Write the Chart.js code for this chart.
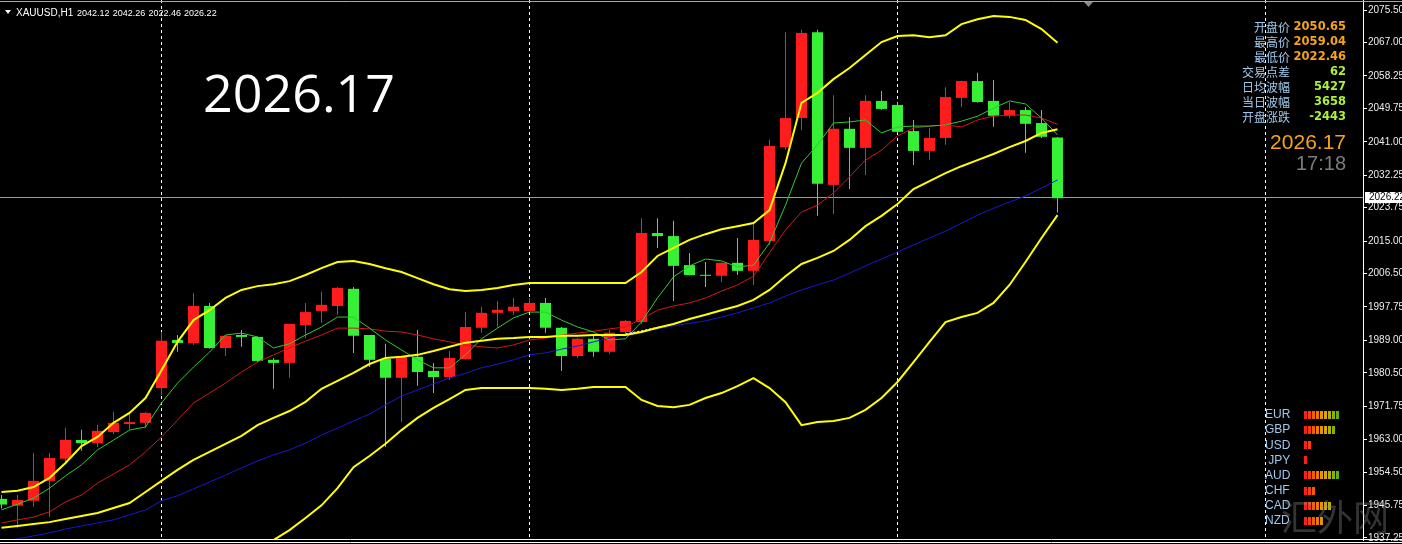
<!DOCTYPE html>
<html lang="zh">
<head>
<meta charset="UTF-8">
<title>XAUUSD,H1</title>
<script src="https://cdn.jsdelivr.net/npm/chart.js"></script>
<style>
    html, body {
        margin: 0;
        padding: 0;
        background: #000;
        overflow: hidden;
    }
    #wrap {
        width: 1402px;
        height: 544px;
    }
</style>
</head>
<body>
<div id="wrap"><canvas id="goldChart" width="1402" height="544"></canvas></div>
<script>
/* свечи XAUUSD H1, индекс = номер бара */
const opens = [1947.5,1945.7,1947.0,1952.2,1958.0,1962.9,1962.1,1965.0,1967.1,1967.4,
    1976.5,1989.1,1988.3,1998.0,1987.0,1990.4,1989.9,1983.9,1983.1,1993.0,
    1996.7,1998.0,2002.5,1990.4,1984.1,1979.2,1984.7,1981.0,1979.4,1984.1,
    1992.3,1996.2,1996.7,1996.7,1998.8,1992.3,1984.9,1989.4,1986.0,1991.2,
    1993.8,2017.1,2016.3,2008.7,2006.1,2005.9,2009.3,2007.2,2015.0,2039.6,
    2047.2,2069.7,2029.7,2044.4,2039.4,2051.7,2050.65,2043.8,2038.6,2042.0,
    2052.5,2056.9,2051.7,2047.8,2049.3,2045.9,2042.12];
const highs = [1948.5,1948.5,1959.5,1959.5,1966.1,1965.6,1966.9,1970.3,1970.3,1970.3,
    1991.2,1990.4,2001.4,1998.8,1990.4,1991.7,1990.0,1984.4,1993.4,1998.8,
    2001.7,2003.0,2003.0,1990.4,1988.1,1984.8,1991.7,1983.1,1986.2,1996.4,
    1997.8,1999.3,2000.1,2000.1,2000.1,1992.5,1989.6,1990.4,1991.7,1994.3,
    2021.0,2021.0,2020.3,2011.9,2009.5,2009.4,2015.8,2019.7,2041.5,2069.7,
    2070.3,2070.3,2053.2,2047.5,2053.2,2054.3,2051.5,2046.7,2044.6,2055.3,
    2057.0,2059.04,2057.2,2051.4,2050.1,2049.3,2042.26];
const lows = [1945.0,1939.9,1945.4,1942.8,1956.9,1960.1,1961.1,1964.5,1965.6,1966.1,
    1974.7,1986.0,1987.8,1986.8,1984.9,1987.3,1983.3,1976.3,1979.2,1989.6,
    1993.6,1995.7,1985.7,1982.0,1961.1,1967.6,1977.1,1975.2,1978.6,1984.0,
    1991.0,1992.3,1995.7,1996.5,1991.0,1981.0,1984.4,1984.7,1985.4,1990.8,
    1993.3,2013.2,1999.3,2006.0,2003.0,2004.3,2006.1,2003.5,2014.0,2038.9,
    2044.1,2021.6,2022.1,2028.6,2032.3,2049.4,2043.3,2034.9,2036.2,2040.2,
    2050.1,2051.2,2044.9,2047.2,2038.1,2042.0,2022.46];
const closes = [1946.0,1947.2,1952.2,1958.2,1962.9,1962.1,1965.3,1967.4,1967.6,1970.0,
    1988.9,1988.3,1998.0,1987.0,1990.2,1989.9,1983.6,1983.1,1993.3,1996.4,
    1998.3,2002.7,1990.2,1983.9,1979.2,1984.7,1980.7,1979.4,1984.4,1992.5,
    1996.2,1997.0,1997.8,1998.8,1992.3,1984.9,1989.4,1986.0,1991.0,1994.1,
    2017.1,2016.3,2008.5,2006.1,2005.9,2009.3,2007.2,2015.3,2039.9,2047.2,
    2069.5,2030.0,2044.4,2039.4,2051.7,2049.6,2043.6,2038.6,2042.0,2052.7,
    2056.9,2051.4,2047.8,2049.3,2045.7,2042.3,2026.22];

/* индикаторы, значения */
const bbUpper = [1949.3,1949.6,1950.6,1953.0,1956.9,1961.3,1963.7,1967.4,1970.0,1973.9,
    1981.2,1988.6,1994.3,1996.9,2000.1,2002.2,2003.2,2003.7,2004.5,2006.1,
    2007.9,2009.5,2009.8,2009.0,2007.9,2006.9,2005.3,2003.7,2002.4,2001.9,
    2002.2,2002.7,2003.5,2004.0,2004.0,2004.0,2004.0,2004.0,2004.0,2004.0,
    2006.9,2011.1,2013.2,2015.3,2016.8,2018.1,2018.9,2019.7,2023.1,2035.4,
    2051.2,2053.8,2057.4,2060.3,2063.7,2067.1,2068.7,2068.9,2068.4,2068.9,
    2071.8,2073.1,2073.9,2073.7,2072.9,2070.5,2066.9];
const bbMiddle = [1939.9,1940.4,1940.9,1941.4,1942.2,1943.0,1943.8,1945.1,1946.4,1949.3,
    1952.2,1955.1,1957.7,1959.8,1961.9,1964.0,1966.8,1968.7,1970.5,1972.9,
    1976.3,1978.4,1980.5,1982.8,1984.4,1984.7,1985.2,1986.2,1987.3,1988.4,
    1988.9,1989.4,1989.6,1989.9,1989.9,1990.2,1990.2,1990.4,1990.4,1990.4,
    1991.2,1992.3,1993.3,1994.6,1995.7,1996.9,1998.0,1999.6,2002.2,2005.8,
    2009.0,2010.6,2012.4,2015.3,2018.9,2021.6,2024.7,2028.6,2030.7,2032.8,
    2034.6,2036.2,2037.8,2039.6,2041.2,2043.3,2044.3];
const bbLower = [null,null,null,null,null,null,null,null,null,null,
    null,null,null,null,null,1930.0,1933.5,1936.7,1939.3,1942.5,
    1945.8,1950.3,1955.8,1958.7,1961.9,1965.5,1968.7,1971.3,1973.6,1976.0,
    1976.5,1976.5,1976.5,1976.5,1976.3,1976.0,1976.3,1976.8,1976.8,1976.8,
    1973.4,1971.8,1971.5,1972.1,1973.9,1975.2,1977.0,1979.1,1976.5,1972.8,
    1966.8,1967.6,1967.9,1968.7,1970.8,1973.9,1978.1,1983.3,1988.6,1993.8,
    1995.1,1996.2,1998.8,2003.5,2009.5,2015.8,2021.8];
const maFast = [1944.6,1946.1,1947.7,1950.3,1953.5,1956.4,1960.3,1962.9,1965.5,1966.3,
    1972.6,1977.8,1982.0,1985.9,1990.4,1990.9,1989.9,1987.0,1988.1,1990.4,
    1992.5,1995.1,1995.1,1992.2,1989.1,1986.5,1983.9,1981.8,1981.8,1985.2,
    1989.4,1992.2,1994.9,1996.4,1996.4,1994.3,1992.5,1991.2,1989.1,1989.4,
    1993.8,2000.1,2005.6,2008.5,2010.3,2009.8,2008.2,2008.7,2014.5,2024.4,
    2035.4,2040.2,2045.9,2046.2,2046.7,2043.3,2044.9,2045.1,2045.1,2045.4,
    2046.4,2047.7,2049.8,2051.7,2050.9,2047.2,2042.8];
const maMid = [1941.2,1942.0,1942.7,1944.1,1946.7,1948.5,1951.6,1954.0,1956.4,1959.8,
    1963.7,1968.1,1972.6,1975.2,1977.8,1980.7,1983.3,1985.2,1987.0,1988.8,
    1990.4,1992.2,1992.2,1992.0,1991.4,1991.2,1990.4,1989.4,1988.6,1987.8,
    1987.3,1987.0,1987.8,1989.1,1989.6,1990.4,1990.9,1991.4,1992.0,1992.5,
    1994.6,1996.9,1998.0,1998.8,2000.1,2001.9,2003.5,2005.8,2011.9,2017.9,
    2022.6,2024.4,2027.6,2031.8,2036.2,2038.8,2042.5,2044.6,2045.1,2045.4,
    2044.9,2046.7,2047.7,2048.0,2048.0,2047.2,2045.6];
const maSlow = [1936.5,1937.0,1937.8,1938.6,1939.6,1940.4,1941.2,1942.0,1943.3,1944.6,
    1947.0,1948.3,1950.1,1951.9,1953.7,1955.6,1957.4,1959.0,1960.3,1962.1,
    1964.2,1966.0,1967.9,1969.7,1972.1,1974.4,1976.0,1977.6,1979.1,1980.4,
    1981.8,1982.8,1983.9,1985.2,1985.7,1986.7,1987.5,1988.6,1989.6,1990.7,
    1991.4,1992.0,1992.8,1993.5,1994.1,1995.1,1996.2,1997.5,1998.8,2000.6,
    2002.2,2003.5,2004.8,2006.6,2008.5,2010.3,2012.1,2014.0,2015.8,2017.6,
    2019.7,2021.8,2023.6,2025.2,2026.8,2028.9,2031.0];
const dashTrend = [null,null,null,null,null,null,null,null,null,null,
    null,null,null,null,null,null,null,null,null,null,
    null,null,null,null,null,null,null,null,null,null,
    null,null,null,null,null,null,null,null,null,1990.7,
    1991.5,1992.4,1993.3];

/* ось цен и разделители дней */
const priceTicks = [2075.50,2067.00,2058.25,2049.75,2041.00,2032.25,2023.75,2015.00,
    2006.50,1997.75,1989.00,1980.50,1971.75,1963.00,1954.50,1945.75,1937.25];
const daySeparators = [10, 33, 56, 79];
const lastBid = 2026.22;

/* тексты панели */
const symbolLabel = 'XAUUSD,H1';
const headerQuote = [2042.12, 2042.26, 2022.46, 2026.22];
const bigPrice = '2026.17';
const infoLabels = ['开盘价', '最高价', '最低价', '交易点差', '日均波幅', '当日波幅', '开盘涨跌'];
const infoValues = ['2050.65', '2059.04', '2022.46', '62', '5427', '3658', '-2443'];
const clockText = '17:18';
const currencies = ['EUR', 'GBP', 'USD', ' JPY', 'AUD', 'CHF', 'CAD', 'NZD'];
const currencyStrength = [9, 8, 2, 1, 9, 3, 7, 5];
const watermark = '汇外网';

const UP = '#ff1c1c';
const DOWN = '#36f036';
const strengthColors = ['#ff2010','#ff3a08','#f85a00','#f07800','#e89400','#d8a800','#b4b000','#8cb000','#60b010'];

function pts(arr) {
    return arr.map((v, i) => v == null ? null : {x: i, y: v}).filter(Boolean);
}

const candleColors = closes.map((c, i) => c >= opens[i] ? UP : DOWN);

const lineBase = {type: 'line', pointRadius: 0, tension: 0, fill: false, borderWidth: 1};

const mt4Overlay = {
    id: 'mt4Overlay',
    beforeDatasetsDraw(chart) {
        const {ctx, chartArea: a, scales: {x, y}} = chart;
        ctx.save();
        ctx.lineWidth = 1;
        ctx.strokeStyle = '#ffffff';
        ctx.setLineDash([3, 3]);
        daySeparators.forEach(i => {
            const px = Math.floor(x.getPixelForValue(i)) + 0.5;
            ctx.beginPath();
            ctx.moveTo(px, a.top);
            ctx.lineTo(px, a.bottom);
            ctx.stroke();
        });
        ctx.setLineDash([]);
        ctx.strokeStyle = '#9c9c9c';
        const by = Math.floor(y.getPixelForValue(lastBid)) - 0.5;
        ctx.beginPath();
        ctx.moveTo(a.left, by);
        ctx.lineTo(a.right, by);
        ctx.stroke();
        ctx.restore();
    },
    afterDraw(chart) {
        const {ctx, chartArea: a, scales: {y}} = chart;
        const W = chart.width;
        ctx.save();

        /* рамка */
        ctx.lineWidth = 1;
        ctx.strokeStyle = '#a8a8a8';
        ctx.beginPath(); ctx.moveTo(0, 1.5); ctx.lineTo(W, 1.5); ctx.stroke();
        ctx.strokeStyle = '#ffffff';
        ctx.beginPath(); ctx.moveTo(0, 539.5); ctx.lineTo(W, 539.5); ctx.stroke();
        ctx.beginPath(); ctx.moveTo(0, 542.5); ctx.lineTo(W, 542.5); ctx.stroke();

        /* заголовок */
        ctx.fillStyle = '#ffffff';
        ctx.beginPath(); ctx.moveTo(5, 10); ctx.lineTo(11, 10); ctx.lineTo(8, 14); ctx.closePath(); ctx.fill();
        ctx.textBaseline = 'alphabetic';
        ctx.textAlign = 'left';
        ctx.font = '10px "Liberation Sans"';
        ctx.fillText(symbolLabel, 16, 16);
        ctx.font = '9px "Liberation Sans"';
        headerQuote.forEach((v, k) => ctx.fillText(v.toFixed(2), 77 + k * 35.7, 16));

        /* крупная цена */
        ctx.font = '52px "Open Sans"';
        ctx.fillText(bigPrice, 203, 112);

        /* маркер сдвига */
        ctx.fillStyle = '#8a8a8a';
        ctx.beginPath(); ctx.moveTo(1084, 2); ctx.lineTo(1093, 2); ctx.lineTo(1088.5, 7); ctx.closePath(); ctx.fill();

        /* инфо-панель */
        ctx.textBaseline = 'middle';
        ctx.textAlign = 'right';
        infoLabels.forEach((t, k) => {
            const yy = 27 + k * 15;
            ctx.font = '12px "Noto Sans CJK SC"';
            ctx.fillStyle = '#9fc8ec';
            ctx.fillText(t, 1290, yy);
            ctx.font = 'bold 11.5px "DejaVu Sans"';
            ctx.fillStyle = k < 3 ? '#f5a31a' : '#adf03a';
            ctx.fillText(infoValues[k], 1346, yy);
        });
        ctx.font = '21px "Liberation Sans"';
        ctx.fillStyle = '#f5a31a';
        ctx.fillText(bigPrice, 1346, 143);
        ctx.font = '20px "Liberation Sans"';
        ctx.fillStyle = '#7c7c7c';
        ctx.fillText(clockText, 1346, 164);

        /* сила валют */
        ctx.textAlign = 'left';
        currencies.forEach((c, k) => {
            const yc = 415 + k * 15.1;
            ctx.font = '12px "Liberation Sans"';
            ctx.fillStyle = '#9fc8ec';
            ctx.fillText(c, 1265, yc);
            for (let j = 0; j < currencyStrength[k]; j++) {
                ctx.fillStyle = strengthColors[j];
                ctx.fillRect(1304 + j * 4, Math.round(yc) - 4, 3, 8);
            }
        });

        /* водяной знак */
        ctx.textBaseline = 'alphabetic';
        ctx.font = '36px "Noto Sans CJK SC"';
        ctx.fillStyle = 'rgba(150,150,150,0.35)';
        ctx.fillText(watermark, 1281, 531);

        /* метка последней цены */
        const by = Math.floor(y.getPixelForValue(lastBid)) - 0.5;
        ctx.fillStyle = '#ffffff';
        ctx.fillRect(a.right + 2, Math.round(by) - 6, W - a.right - 2, 11);
        ctx.fillStyle = '#000000';
        ctx.textBaseline = 'middle';
        ctx.font = '10px "Liberation Sans"';
        ctx.fillText(lastBid.toFixed(2), a.right + 6, by);

        ctx.restore();
    }
};

const ctx = document.getElementById('goldChart').getContext('2d');
new Chart(ctx, {
    type: 'bar',
    data: {
        datasets: [
            Object.assign({}, lineBase, {data: pts(bbUpper), borderColor: '#ffff00', borderWidth: 2, order: 0}),
            Object.assign({}, lineBase, {data: pts(bbMiddle), borderColor: '#ffff00', borderWidth: 2, order: 0}),
            Object.assign({}, lineBase, {data: pts(bbLower), borderColor: '#ffff00', borderWidth: 2, order: 0}),
            Object.assign({}, lineBase, {data: pts(dashTrend), borderColor: '#ffffff', borderDash: [2, 2], order: 0}),
            Object.assign({}, lineBase, {data: pts(maFast), borderColor: '#33c833', order: 1}),
            Object.assign({}, lineBase, {data: pts(maMid), borderColor: '#d01818', order: 1}),
            Object.assign({}, lineBase, {data: pts(maSlow), borderColor: '#1818d0', order: 1}),
            {
                /* тела свечей */
                data: opens.map((o, i) => ({x: i, y: [o, closes[i]]})),
                backgroundColor: candleColors,
                barThickness: 11,
                minBarLength: 1,
                grouped: false,
                borderWidth: 0,
                inflateAmount: 0,
                order: 3
            },
            {
                /* тени */
                data: lows.map((l, i) => ({x: i, y: [l, highs[i]]})),
                backgroundColor: candleColors,
                barThickness: 1,
                grouped: false,
                borderWidth: 0,
                inflateAmount: 0,
                order: 4
            }
        ]
    },
    options: {
        responsive: false,
        animation: false,
        events: [],
        layout: {padding: {top: 0, left: 0, right: 0, bottom: 4}},
        plugins: {
            legend: {display: false},
            tooltip: {enabled: false}
        },
        scales: {
            x: {
                type: 'linear',
                display: false,
                offset: false,
                min: -0.09375,
                max: 85.09375
            },
            y: {
                position: 'right',
                min: 1936.72,
                max: 2078.12,
                afterBuildTicks: s => { s.ticks = priceTicks.map(v => ({value: v})); },
                afterFit: s => { s.width = 39; s.paddingTop = 0; s.paddingBottom = 0; },
                ticks: {
                    color: '#eeeeee',
                    autoSkip: false,
                    padding: 1,
                    font: {family: 'Liberation Sans', size: 10},
                    callback: v => Number(v).toFixed(2)
                },
                grid: {drawOnChartArea: false, color: '#ffffff', tickLength: 4},
                border: {color: '#ffffff'}
            }
        }
    },
    plugins: [mt4Overlay]
});
</script>
</body>
</html>
